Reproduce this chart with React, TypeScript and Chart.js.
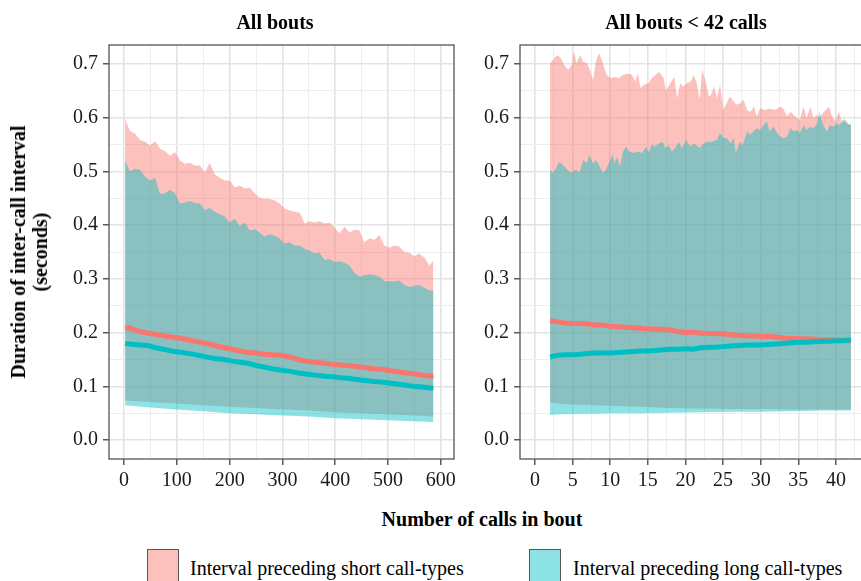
import React, { useEffect, useRef } from "react";
import { Chart, registerables } from "chart.js";

Chart.register(...registerables);

// ---------------- DATA ----------------
// Left panel: "All bouts"
const leftBandX = [2, 11, 21, 30, 40, 49, 59, 68, 77, 87, 96, 106, 115, 125, 134, 144, 153, 162, 172, 181, 191, 200, 210, 219, 229, 238, 248, 257, 266, 276, 285, 295, 304, 314, 323, 333, 342, 351, 361, 370, 380, 389, 399, 408, 418, 427, 436, 446, 455, 465, 474, 484, 493, 503, 512, 521, 531, 540, 550, 559, 569, 578, 586];
const leftShortUpper = [0.598, 0.575, 0.570, 0.559, 0.555, 0.548, 0.556, 0.542, 0.538, 0.529, 0.536, 0.520, 0.514, 0.516, 0.511, 0.511, 0.498, 0.516, 0.494, 0.488, 0.483, 0.483, 0.470, 0.473, 0.468, 0.470, 0.459, 0.451, 0.449, 0.449, 0.446, 0.440, 0.431, 0.427, 0.425, 0.423, 0.403, 0.407, 0.405, 0.407, 0.403, 0.405, 0.395, 0.385, 0.397, 0.386, 0.392, 0.390, 0.368, 0.375, 0.373, 0.381, 0.362, 0.358, 0.362, 0.360, 0.350, 0.349, 0.342, 0.347, 0.340, 0.325, 0.334];
const leftLongUpper = [0.520, 0.500, 0.505, 0.503, 0.490, 0.483, 0.488, 0.458, 0.459, 0.466, 0.460, 0.440, 0.442, 0.445, 0.441, 0.440, 0.428, 0.432, 0.425, 0.420, 0.416, 0.405, 0.412, 0.398, 0.405, 0.390, 0.393, 0.386, 0.379, 0.383, 0.380, 0.375, 0.366, 0.368, 0.362, 0.362, 0.356, 0.353, 0.347, 0.349, 0.335, 0.337, 0.331, 0.333, 0.330, 0.325, 0.312, 0.304, 0.307, 0.308, 0.307, 0.304, 0.295, 0.296, 0.295, 0.297, 0.289, 0.285, 0.287, 0.289, 0.283, 0.279, 0.278];
const leftLowerX = [2, 50, 100, 150, 200, 250, 300, 350, 400, 450, 500, 550, 586];
const leftShortLower = [0.074, 0.071, 0.068, 0.065, 0.062, 0.060, 0.057, 0.055, 0.052, 0.050, 0.048, 0.046, 0.044];
const leftLongLower = [0.065, 0.061, 0.057, 0.054, 0.050, 0.048, 0.046, 0.044, 0.041, 0.039, 0.037, 0.035, 0.034];
const leftLineX = [2, 10, 20, 30, 45, 60, 75, 90, 110, 125, 140, 155, 172, 190, 205, 220, 235, 250, 265, 280, 299, 315, 330, 345, 362, 380, 395, 410, 424, 440, 456, 472, 488, 505, 520, 535, 550, 565, 580, 586];
const leftShortMean = [0.208, 0.209, 0.205, 0.202, 0.199, 0.197, 0.194, 0.192, 0.189, 0.186, 0.183, 0.180, 0.176, 0.172, 0.169, 0.166, 0.163, 0.162, 0.160, 0.159, 0.158, 0.154, 0.150, 0.147, 0.145, 0.143, 0.141, 0.140, 0.139, 0.137, 0.135, 0.133, 0.132, 0.129, 0.127, 0.125, 0.123, 0.121, 0.119, 0.120];
const leftLongMean = [0.180, 0.179, 0.178, 0.177, 0.176, 0.172, 0.169, 0.166, 0.163, 0.161, 0.158, 0.155, 0.152, 0.150, 0.147, 0.145, 0.143, 0.139, 0.136, 0.133, 0.130, 0.128, 0.125, 0.123, 0.121, 0.119, 0.118, 0.116, 0.115, 0.113, 0.111, 0.109, 0.108, 0.106, 0.104, 0.102, 0.100, 0.099, 0.097, 0.097];

// Right panel: "All bouts < 42 calls"
const rightShortUpperX = [2.0, 2.9, 3.3, 4.0, 4.4, 4.9, 5.2, 5.5, 6.0, 6.4, 6.9, 7.3, 7.7, 8.1, 8.5, 9.1, 9.5, 10.1, 10.6, 11.1, 11.7, 12.4, 12.9, 13.3, 13.7, 14.0, 14.5, 15.1, 15.5, 16.0, 16.5, 17.1, 17.4, 18.0, 18.5, 18.9, 19.3, 19.7, 20.2, 20.7, 21.1, 21.5, 21.9, 22.2, 22.7, 23.1, 23.4, 23.8, 24.2, 24.6, 25.0, 25.5, 25.9, 26.4, 26.8, 27.3, 27.7, 28.2, 28.6, 29.1, 29.5, 29.9, 30.6, 31.2, 31.9, 32.6, 33.0, 33.5, 34.0, 34.6, 35.2, 35.7, 36.1, 36.6, 37.0, 37.5, 37.8, 38.4, 39.1, 39.5, 39.9, 40.4, 40.8, 41.3, 41.7, 42.0];
const rightShortUpper = [0.701, 0.716, 0.713, 0.695, 0.689, 0.698, 0.723, 0.701, 0.716, 0.704, 0.701, 0.689, 0.670, 0.704, 0.720, 0.698, 0.679, 0.673, 0.676, 0.673, 0.679, 0.682, 0.679, 0.667, 0.682, 0.655, 0.661, 0.664, 0.673, 0.679, 0.685, 0.673, 0.651, 0.664, 0.676, 0.636, 0.664, 0.658, 0.664, 0.667, 0.679, 0.664, 0.633, 0.689, 0.667, 0.639, 0.642, 0.658, 0.636, 0.661, 0.614, 0.627, 0.639, 0.630, 0.624, 0.627, 0.633, 0.614, 0.611, 0.620, 0.602, 0.617, 0.614, 0.617, 0.614, 0.620, 0.617, 0.602, 0.611, 0.602, 0.596, 0.620, 0.599, 0.620, 0.599, 0.605, 0.600, 0.611, 0.620, 0.602, 0.593, 0.611, 0.590, 0.596, 0.587, 0.587];
const rightLongUpperX = [2.0, 2.4, 2.9, 3.2, 3.7, 4.1, 4.7, 5.1, 5.5, 5.9, 6.4, 6.9, 7.2, 7.7, 8.1, 8.6, 9.0, 9.4, 10.0, 10.3, 10.6, 10.9, 11.3, 11.7, 12.1, 12.5, 13.1, 13.7, 14.2, 14.8, 15.1, 15.5, 16.0, 16.4, 17.0, 17.3, 17.7, 18.2, 18.6, 19.1, 19.5, 20.1, 20.6, 21.2, 21.9, 22.2, 22.8, 23.5, 24.2, 24.6, 25.1, 25.5, 26.0, 26.4, 26.7, 27.2, 27.6, 28.2, 28.6, 29.1, 29.5, 29.9, 30.4, 30.8, 31.2, 31.7, 32.2, 32.6, 33.0, 33.5, 34.0, 34.4, 34.8, 35.2, 35.7, 36.1, 36.6, 37.0, 37.5, 37.8, 38.3, 38.8, 39.2, 39.7, 40.1, 40.5, 41.0, 41.4, 42.0];
const rightLongUpper = [0.503, 0.497, 0.509, 0.518, 0.512, 0.506, 0.497, 0.500, 0.503, 0.497, 0.521, 0.515, 0.531, 0.515, 0.521, 0.509, 0.497, 0.503, 0.521, 0.531, 0.515, 0.527, 0.509, 0.537, 0.546, 0.537, 0.534, 0.537, 0.534, 0.546, 0.534, 0.549, 0.546, 0.552, 0.555, 0.543, 0.549, 0.537, 0.543, 0.555, 0.543, 0.559, 0.546, 0.552, 0.543, 0.549, 0.555, 0.555, 0.559, 0.571, 0.562, 0.562, 0.552, 0.562, 0.534, 0.555, 0.549, 0.574, 0.568, 0.575, 0.580, 0.577, 0.586, 0.593, 0.574, 0.583, 0.571, 0.565, 0.562, 0.565, 0.580, 0.574, 0.577, 0.571, 0.586, 0.577, 0.583, 0.580, 0.589, 0.611, 0.586, 0.574, 0.586, 0.583, 0.589, 0.586, 0.598, 0.589, 0.586];
const rightLowerX = [2, 3, 4, 6, 8, 10, 14, 18, 22, 26, 30, 34, 38, 42];
const rightShortLower = [0.070, 0.068, 0.067, 0.066, 0.065, 0.064, 0.062, 0.060, 0.059, 0.058, 0.058, 0.057, 0.057, 0.057];
const rightLongLower = [0.047, 0.048, 0.048, 0.049, 0.049, 0.050, 0.050, 0.051, 0.052, 0.053, 0.053, 0.054, 0.055, 0.055];
const rightLineX = [2, 3, 4, 5, 6, 7, 8, 9, 10, 11, 12, 13, 14, 15, 16, 17, 18, 19, 20, 21, 22, 23, 24, 25, 26, 27, 28, 29, 30, 31, 32, 33, 34, 35, 36, 37, 38, 39, 40, 41, 42];
const rightShortMean = [0.222, 0.220, 0.218, 0.217, 0.217, 0.216, 0.214, 0.214, 0.212, 0.211, 0.210, 0.209, 0.208, 0.207, 0.207, 0.206, 0.205, 0.202, 0.200, 0.201, 0.199, 0.199, 0.198, 0.198, 0.196, 0.195, 0.194, 0.194, 0.193, 0.193, 0.192, 0.190, 0.189, 0.189, 0.188, 0.188, 0.187, 0.187, 0.187, 0.186, 0.184];
const rightLongMean = [0.155, 0.158, 0.159, 0.159, 0.160, 0.161, 0.162, 0.162, 0.162, 0.163, 0.164, 0.165, 0.166, 0.166, 0.167, 0.168, 0.169, 0.169, 0.170, 0.169, 0.172, 0.173, 0.173, 0.174, 0.175, 0.176, 0.177, 0.177, 0.177, 0.178, 0.179, 0.180, 0.181, 0.182, 0.182, 0.183, 0.184, 0.184, 0.185, 0.185, 0.187];

// Tick labels / text
const leftXTicks = [0, 100, 200, 300, 400, 500, 600];
const rightXTicks = [0, 5, 10, 15, 20, 25, 30, 35, 40];
const yTicks = [0.0, 0.1, 0.2, 0.3, 0.4, 0.5, 0.6, 0.7];
const panelTitles = ["All bouts", "All bouts < 42 calls"];
const yTitleLines = ["Duration of inter-call interval", "(seconds)"];
const xTitle = "Number of calls in bout";
const legendLabels = ["Interval preceding short call-types", "Interval preceding long call-types"];

// ---------------- STYLE ----------------
const FONT = "'Liberation Serif', 'Times New Roman', Times, serif";
const RED = "#F8766D";
const TEAL = "#00BFC4";
const RED_FILL = "rgba(248,118,109,0.45)";
const TEAL_FILL = "rgba(0,191,196,0.45)";
const Y_MIN = -0.035;
const Y_MAX = 0.735;

Chart.defaults.font.family = FONT;

function gridValues(majors: number[], max: number) {
  const step = majors[1] - majors[0];
  const out: number[] = [];
  majors.forEach((m) => {
    out.push(m);
    const h = +(m + step / 2).toFixed(6);
    if (h <= max) out.push(h);
  });
  return out;
}
const isIn = (v: number, arr: number[]) => arr.some((a) => Math.abs(a - v) < 1e-6);

const borderPlugin = {
  id: "panelBorder",
  afterDraw(chart: any) {
    const { ctx, chartArea } = chart;
    ctx.save();
    ctx.strokeStyle = "#555555";
    ctx.lineWidth = 1.3;
    ctx.strokeRect(chartArea.left, chartArea.top, chartArea.right - chartArea.left, chartArea.bottom - chartArea.top);
    ctx.restore();
  },
};

type Panel = {
  xMin: number; xMax: number; xMajors: number[]; yAxisWidth: number; padRight: number; height: number;
  bandShortX: number[]; shortUpper: number[]; bandLongX: number[]; longUpper: number[];
  lowerX: number[]; shortLower: number[]; longLower: number[];
  lineX: number[]; shortMean: number[]; longMean: number[];
};

function makeConfig(p: Panel): any {
  const pts = (xs: number[], ys: number[]) => xs.map((x, i) => ({ x, y: ys[i] }));
  const hidden = { borderWidth: 0, borderColor: "rgba(0,0,0,0)", pointRadius: 0, pointHoverRadius: 0 };
  const xGrid = gridValues(p.xMajors, p.xMax);
  const yGrid = gridValues(yTicks, Y_MAX);
  const gridStyle = (majors: number[]) => ({
    color: (c: any) => (c.tick && isIn(c.tick.value, majors) ? "#e3e3e3" : "#ededed"),
    lineWidth: (c: any) => (c.tick && isIn(c.tick.value, majors) ? 1.6 : 1.0),
    tickColor: (c: any) => (c.tick && isIn(c.tick.value, majors) ? "#333333" : "rgba(0,0,0,0)"),
    tickWidth: 1.2,
    tickLength: 6,
    drawTicks: true,
    drawOnChartArea: true,
  });
  const tickFont = { family: FONT, size: 20, weight: "normal" as const };
  return {
    type: "line",
    data: {
      datasets: [
        { label: "long mean", data: pts(p.lineX, p.longMean), borderColor: TEAL, borderWidth: 5, pointRadius: 0, fill: false },
        { label: "short mean", data: pts(p.lineX, p.shortMean), borderColor: RED, borderWidth: 5, pointRadius: 0, fill: false },
        { label: "long upper", data: pts(p.bandLongX, p.longUpper), ...hidden, backgroundColor: TEAL_FILL, fill: "+1" },
        { label: "long lower", data: pts(p.lowerX, p.longLower), ...hidden, fill: false },
        { label: "short upper", data: pts(p.bandShortX, p.shortUpper), ...hidden, backgroundColor: RED_FILL, fill: "+1" },
        { label: "short lower", data: pts(p.lowerX, p.shortLower), ...hidden, fill: false },
      ],
    },
    options: {
      responsive: false,
      maintainAspectRatio: false,
      animation: false,
      events: [],
      layout: { padding: { left: 0, top: 45, right: p.padRight, bottom: 0 } },
      plugins: { legend: { display: false }, tooltip: { enabled: false }, title: { display: false } },
      scales: {
        x: {
          type: "linear",
          min: p.xMin,
          max: p.xMax,
          afterFit: (s: any) => { s.height = p.height - 459; },
          afterBuildTicks: (s: any) => { s.ticks = xGrid.map((v) => ({ value: v })); },
          grid: gridStyle(p.xMajors),
          border: { display: false },
          ticks: {
            autoSkip: false, maxRotation: 0, minRotation: 0, padding: 4,
            color: "#1a1a1a", font: tickFont,
            callback: (v: any) => (isIn(Number(v), p.xMajors) ? String(Math.round(Number(v))) : ""),
          },
        },
        y: {
          type: "linear",
          min: Y_MIN,
          max: Y_MAX,
          afterFit: (s: any) => { s.width = p.yAxisWidth; },
          afterBuildTicks: (s: any) => { s.ticks = yGrid.map((v) => ({ value: v })); },
          grid: gridStyle(yTicks),
          border: { display: false },
          ticks: {
            autoSkip: false, padding: 5,
            color: "#1a1a1a", font: tickFont,
            callback: (v: any) => (isIn(Number(v), yTicks) ? Number(v).toFixed(1) : ""),
          },
        },
      },
    },
    plugins: [borderPlugin],
  };
}

const leftPanel: Panel = {
  xMin: -28.5, xMax: 625, xMajors: leftXTicks, yAxisWidth: 109, padRight: 5, height: 500,
  bandShortX: leftBandX, shortUpper: leftShortUpper, bandLongX: leftBandX, longUpper: leftLongUpper,
  lowerX: leftLowerX, shortLower: leftShortLower, longLower: leftLongLower,
  lineX: leftLineX, shortMean: leftShortMean, longMean: leftLongMean,
};
const rightPanel: Panel = {
  xMin: -2, xMax: 44, xMajors: rightXTicks, yAxisWidth: 60, padRight: 9, height: 500,
  bandShortX: rightShortUpperX, shortUpper: rightShortUpper, bandLongX: rightLongUpperX, longUpper: rightLongUpper,
  lowerX: rightLowerX, shortLower: rightShortLower, longLower: rightLongLower,
  lineX: rightLineX, shortMean: rightShortMean, longMean: rightLongMean,
};

const textBase: React.CSSProperties = { position: "absolute", fontFamily: FONT, color: "#000", whiteSpace: "nowrap" };

export default function App() {
  const leftRef = useRef<HTMLCanvasElement>(null);
  const rightRef = useRef<HTMLCanvasElement>(null);

  useEffect(() => {
    const charts: Chart[] = [];
    if (leftRef.current) charts.push(new Chart(leftRef.current, makeConfig(leftPanel)));
    if (rightRef.current) charts.push(new Chart(rightRef.current, makeConfig(rightPanel)));
    return () => charts.forEach((c) => c.destroy());
  }, []);

  return (
    <div style={{ position: "fixed", left: 0, top: 0, width: 861, height: 581, overflow: "hidden", background: "#fff" }}>
      <canvas ref={leftRef} width={460} height={500} style={{ position: "absolute", left: 0, top: 0, width: 460, height: 500 }} />
      <canvas ref={rightRef} width={415} height={500} style={{ position: "absolute", left: 460, top: 0, width: 415, height: 500 }} />

      <div style={{ ...textBase, left: 275, top: 22, transform: "translate(-50%,-50%)", fontWeight: "bold", fontSize: 20 }}>{panelTitles[0]}</div>
      <div style={{ ...textBase, left: 686, top: 22, transform: "translate(-50%,-50%)", fontWeight: "bold", fontSize: 20 }}>{panelTitles[1]}</div>

      <div style={{ ...textBase, left: 29, top: 252, transform: "translate(-50%,-50%) rotate(-90deg)", fontWeight: "bold", fontSize: 20, lineHeight: "22px", textAlign: "center" }}>
        <div>{yTitleLines[0]}</div>
        <div>{yTitleLines[1]}</div>
      </div>

      <div style={{ ...textBase, left: 482, top: 519, transform: "translate(-50%,-50%)", fontWeight: "bold", fontSize: 20 }}>{xTitle}</div>

      <div style={{ position: "absolute", left: 147, top: 549, width: 32, height: 34, boxSizing: "border-box", border: "1.5px solid #555", background: RED_FILL }} />
      <div style={{ ...textBase, left: 190, top: 556, fontSize: 20, lineHeight: "24px" }}>{legendLabels[0]}</div>
      <div style={{ position: "absolute", left: 529, top: 549, width: 32, height: 34, boxSizing: "border-box", border: "1.5px solid #555", background: TEAL_FILL }} />
      <div style={{ ...textBase, left: 573, top: 556, fontSize: 20, lineHeight: "24px" }}>{legendLabels[1]}</div>
    </div>
  );
}
